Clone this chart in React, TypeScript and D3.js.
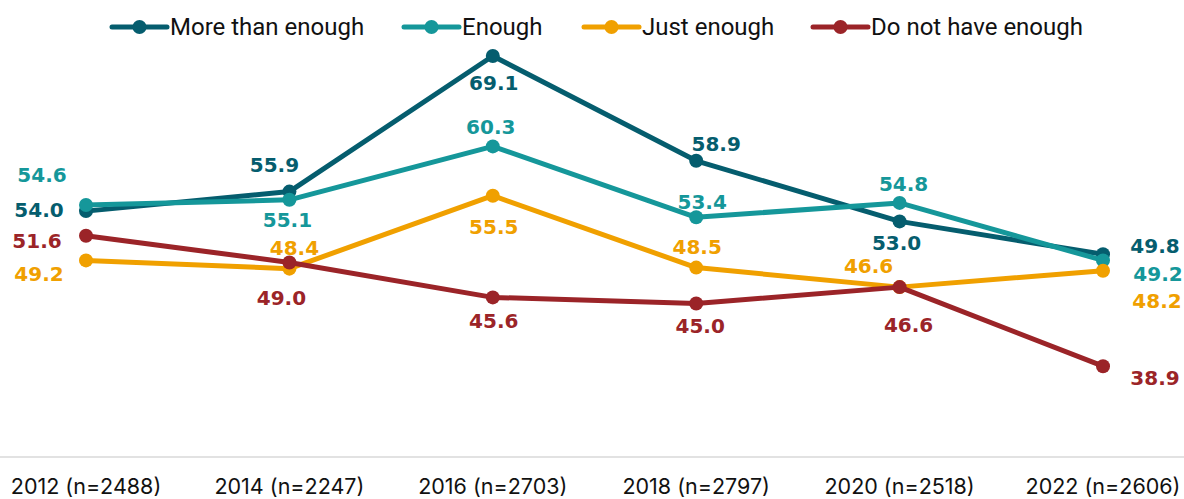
import React from "react";
import * as d3 from "d3";

const categories = ["2012 (n=2488)", "2014 (n=2247)", "2016 (n=2703)", "2018 (n=2797)", "2020 (n=2518)", "2022 (n=2606)"];
const seriesNames = ["More than enough", "Enough", "Just enough", "Do not have enough"];
const moreThanEnough = [54.0, 55.9, 69.1, 58.9, 53.0, 49.8];
const enough = [54.6, 55.1, 60.3, 53.4, 54.8, 49.2];
const justEnough = [49.2, 48.4, 55.5, 48.5, 46.6, 48.2];
const notEnough = [51.6, 49.0, 45.6, 45.0, 46.6, 38.9];
const colors = ["#055d6e", "#15979a", "#f0a000", "#9b2428"];

// label centre offsets (dx, dy) per series per point, relative to the point
const labelOffsets: [number, number][][] = [
  [[-47, -1], [-15, -27], [1, 26.5], [20, -17.5], [-3, 21], [52, -9]],
  [[-44, -30], [-2, 19.5], [-2, -20], [6, -16], [4, -19], [55, 13]],
  [[-47, 13], [5, -20.5], [1, 31.5], [1, -21], [-31, -21.5], [54, 30]],
  [[-49, 5], [-8, 35.5], [1, 23], [4, 22], [9, 38], [52, 12]],
];

export default function App() {
  const width = 1184;
  const height = 499;
  const labelSize = 20;
  const x = d3.scalePoint<string>().domain(categories).range([86, 1103]);
  const y = d3.scaleLinear().domain([30, 70]).range([457.6, 46.8]);
  const all = [moreThanEnough, enough, justEnough, notEnough];
  const line = d3.line<number>().x((_, i) => x(categories[i])!).y((d) => y(d));
  const legendX = [112, 404, 584, 813];
  return (
    <svg width={width} height={height} style={{ position: "absolute", left: 0, top: 0 }}>
      <line x1={0} x2={width} y1={457} y2={457} stroke="#d9d9d9" strokeWidth={1.5} />
      {categories.map((c) => (
        <text key={c} x={x(c)!} y={494} textAnchor="middle" fontFamily="Inter, 'Noto Sans', sans-serif" fontSize={21.5} fill="#111">
          {c}
        </text>
      ))}
      {all.map((vals, si) => (
        <g key={si}>
          <path d={line(vals) || ""} fill="none" stroke={colors[si]} strokeWidth={5} strokeLinejoin="round" strokeLinecap="round" />
          {vals.map((v, i) => (
            <circle key={i} cx={x(categories[i])!} cy={y(v)} r={7} fill={colors[si]} />
          ))}
        </g>
      ))}
      {all.map((vals, si) =>
        vals.map((v, i) => (
          <text
            key={`${si}-${i}`}
            x={x(categories[i])! + labelOffsets[si][i][0]}
            y={y(v) + labelOffsets[si][i][1] + 0.364 * labelSize}
            textAnchor="middle"
            fontFamily="'DejaVu Sans', sans-serif"
            fontWeight={700}
            fontSize={labelSize}
            fill={colors[si]}
          >
            {v.toFixed(1)}
          </text>
        ))
      )}
      {seriesNames.map((n, i) => (
        <g key={n}>
          <line x1={legendX[i]} x2={legendX[i] + 55} y1={27} y2={27} stroke={colors[i]} strokeWidth={5} strokeLinecap="round" />
          <circle cx={legendX[i] + 27.5} cy={27} r={7} fill={colors[i]} />
          <text x={legendX[i] + 58} y={27} dominantBaseline="central" fontFamily="'Liberation Sans Narrow', 'Roboto', sans-serif" fontSize={24} fill="#111">
            {n}
          </text>
        </g>
      ))}
    </svg>
  );
}
